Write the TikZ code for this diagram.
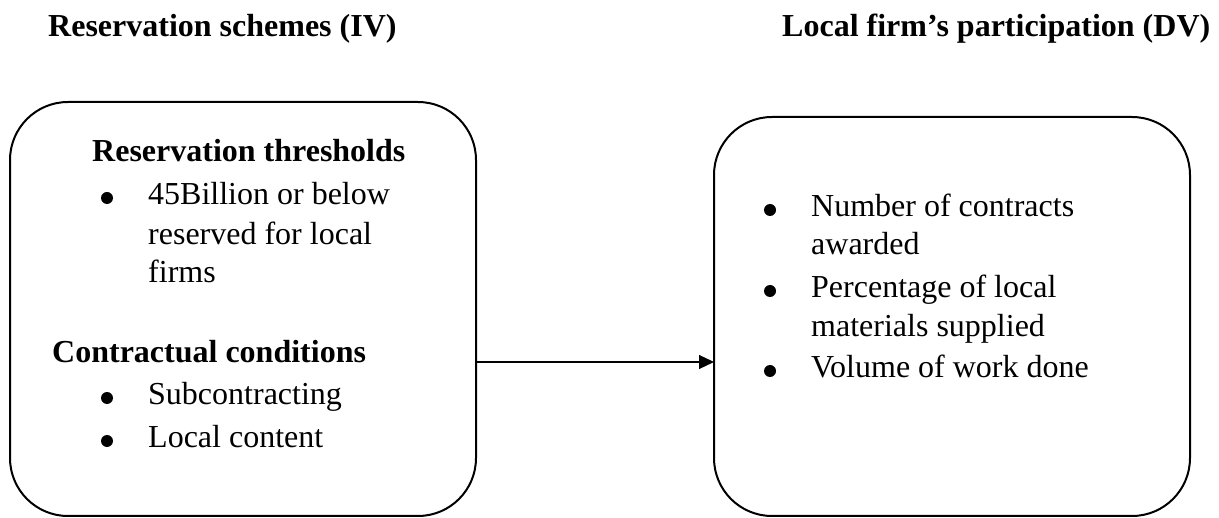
\documentclass[tikz,border=0pt]{standalone}
\usepackage{fontspec}
\setmainfont{Liberation Serif}
\usetikzlibrary{arrows.meta}
\begin{document}
\begin{tikzpicture}[x=1pt,y=-1pt,
  box/.style={draw=black,line width=2pt,rounded corners=58pt,inner sep=0pt},
  txt/.style={anchor=base west,inner sep=0pt,font=\fontsize{32}{38}\selectfont},
  btxt/.style={txt,font=\fontsize{32}{38}\selectfont\bfseries},
  bul/.style={circle,fill=black,inner sep=0pt,minimum size=12pt},
  conn/.style={line width=1.2pt,-{Triangle[length=15pt,width=14pt]}}]
\useasboundingbox (0,0) rectangle (1219,518);
% titles
\node[btxt] (t1) at (48,37) {Reservation schemes (IV)};
\node[btxt] (t2) at (782,37) {Local firm’s participation (DV)};
% boxes
\draw[box] (10,102) rectangle (476,516);
\coordinate (lb) at (476,362);
\draw[box] (714,117) rectangle (1190,516);
\coordinate (rb) at (714,362);
% left text
\node[btxt] (h1) at (92,162) {Reservation thresholds};
\node[bul] (b1) at (107,198) {};
\node[txt] (l1) at (148,205) {45Billion or below};
\node[txt] (l2) at (148,245) {reserved for local};
\node[txt] (l3) at (148,283) {firms};
\node[btxt] (h2) at (52,363) {Contractual conditions};
\node[bul] (b2) at (107,398) {};
\node[txt] (l4) at (148,405) {Subcontracting};
\node[bul] (b3) at (107,441) {};
\node[txt] (l5) at (148,448) {Local content};
% right text
\node[bul] (b4) at (770,210) {};
\node[txt] (r1) at (811,217) {Number of contracts};
\node[txt] (r2) at (811,255) {awarded};
\node[bul] (b5) at (770,291) {};
\node[txt] (r3) at (811,298) {Percentage of local};
\node[txt] (r4) at (811,337) {materials supplied};
\node[bul] (b6) at (770,371) {};
\node[txt] (r5) at (811,378) {Volume of work done};
% connector
\draw[conn] (lb) -- (rb);
\end{tikzpicture}
\end{document}
